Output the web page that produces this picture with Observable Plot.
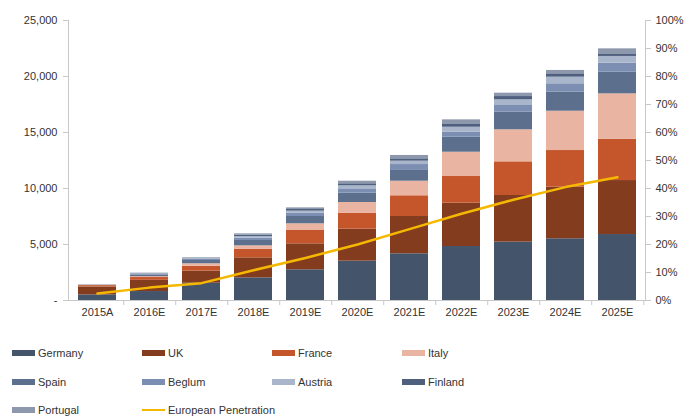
<!DOCTYPE html>
<html>
<head>
<meta charset="utf-8">
<script src="https://cdn.jsdelivr.net/npm/d3@7"></script>
<script src="https://cdn.jsdelivr.net/npm/@observablehq/plot@0.6"></script>
<style>
  body { margin: 0; background: #fff; font-family: "Liberation Sans", Arial, sans-serif; }
  #chart svg { display: block; }
  g[aria-label="shadow"] { filter: blur(1.5px); }
  #legend { display: grid; grid-template-columns: repeat(4, 130px); padding: 9px 0 0 12px; }
  .item { height: 28.5px; display: flex; align-items: center; font-size: 11px; color: #333; white-space: nowrap; }
  .sw { width: 23px; height: 6px; margin-right: 3px; flex: none; }
  .ln { width: 23px; height: 2px; margin-right: 3px; background: #f5b800; flex: none; }
</style>
</head>
<body>
<div id="chart"></div>
<div id="legend"></div>
<script>
const categories = ["2015A","2016E","2017E","2018E","2019E","2020E","2021E","2022E","2023E","2024E","2025E"];
const series = ["Germany","UK","France","Italy","Spain","Beglum","Austria","Finland","Portugal"];
const colors = ["#44546a","#843c1f","#c5562b","#e9b5a2","#5c6f8c","#7c8fb3","#a9b5ca","#4f607f","#8d98ad"];

const germany  = [500, 800, 1540, 2020, 2740, 3510, 4170, 4820, 5210, 5510, 5890];
const uk       = [700, 1000, 1080, 1790, 2320, 2860, 3330, 3870, 4165, 4610, 4820];
const france   = [130, 250, 440, 770, 1190, 1430, 1850, 2380, 3005, 3270, 3690];
const italy    = [30, 80, 220, 300, 600, 950, 1300, 2170, 2860, 3510, 4050];
const spain    = [20, 150, 290, 480, 650, 830, 960, 1340, 1570, 1700, 1930];
const belgium  = [10, 70, 110, 210, 300, 390, 530, 450, 600, 750, 810];
const austria  = [5, 40, 60, 140, 180, 270, 300, 440, 510, 590, 600];
const finland  = [5, 30, 40, 120, 145, 180, 210, 300, 290, 300, 230];
const portugal = [0, 20, 30, 120, 145, 230, 300, 360, 300, 300, 450];
const penetration = [2.5, 4.6, 6.2, 10.8, 15.2, 20, 25.5, 31, 36, 40.5, 44];

const leftTicks = [0, 5000, 10000, 15000, 20000, 25000];
const rightTicks = [0, 10, 20, 30, 40, 50, 60, 70, 80, 90, 100];

const valueArrays = [germany, uk, france, italy, spain, belgium, austria, finland, portugal];
const table = [];
series.forEach((s, i) => categories.forEach((c, j) => table.push({year: c, country: s, value: valueArrays[i][j]})));
const lineData = categories.map((c, i) => ({year: c, pct: penetration[i]}));

const W = 686, H = 330, mL = 68, mR = 41, mT = 20, mB = 30;
const pctToY = 25000 / 100;
const step = (W - mL - mR) / categories.length;

const plot = Plot.plot({
  width: W, height: H,
  marginLeft: mL, marginRight: mR, marginTop: mT, marginBottom: mB,
  style: {fontFamily: "Liberation Sans, Arial, sans-serif", fontSize: "11px", color: "#333"},
  x: {domain: categories, paddingInner: 0.27, paddingOuter: 0.135},
  y: {domain: [0, 25000]},
  color: {domain: series, range: colors},
  marks: [
    Plot.barY(table, {x: "year", y: "value", fill: "country"}),
    Plot.line(lineData, {x: "year", y: d => d.pct * pctToY, stroke: "#777", strokeWidth: 3.5, strokeOpacity: 0.6, dx: 2, dy: 4, ariaLabel: "shadow"}),
    Plot.line(lineData, {x: "year", y: d => d.pct * pctToY, stroke: "#f5b800", strokeWidth: 2.5}),
    Plot.frame({anchor: "left", stroke: "#c8c8c8"}),
    Plot.frame({anchor: "right", stroke: "#c8c8c8"}),
    Plot.ruleY([0], {stroke: "#c8c8c8"}),
    Plot.axisY(leftTicks, {anchor: "left", tickSize: 5, tickPadding: 6, stroke: "#c8c8c8",
      tickFormat: d => d === 0 ? "-" : d3.format(",")(d), label: null}),
    Plot.axisY(rightTicks.map(p => p * pctToY), {anchor: "right", tickSize: 5, tickPadding: 5, stroke: "#c8c8c8",
      tickFormat: d => Math.round(d / pctToY) + "%", label: null}),
    Plot.axisX(categories, {anchor: "bottom", tickSize: 0, tickPadding: 8, label: null}),
    Plot.axisX(categories, {anchor: "bottom", tickSize: 5, tickFormat: null, dx: step / 2, stroke: "#c8c8c8", label: null})
  ]
});
document.getElementById("chart").appendChild(plot);

const legend = document.getElementById("legend");
series.forEach((s, i) => {
  const d = document.createElement("div");
  d.className = "item";
  d.innerHTML = `<span class="sw" style="background:${colors[i]}"></span>${s}`;
  legend.appendChild(d);
});
const l = document.createElement("div");
l.className = "item";
l.innerHTML = `<span class="ln"></span>European Penetration`;
legend.appendChild(l);
</script>
</body>
</html>
